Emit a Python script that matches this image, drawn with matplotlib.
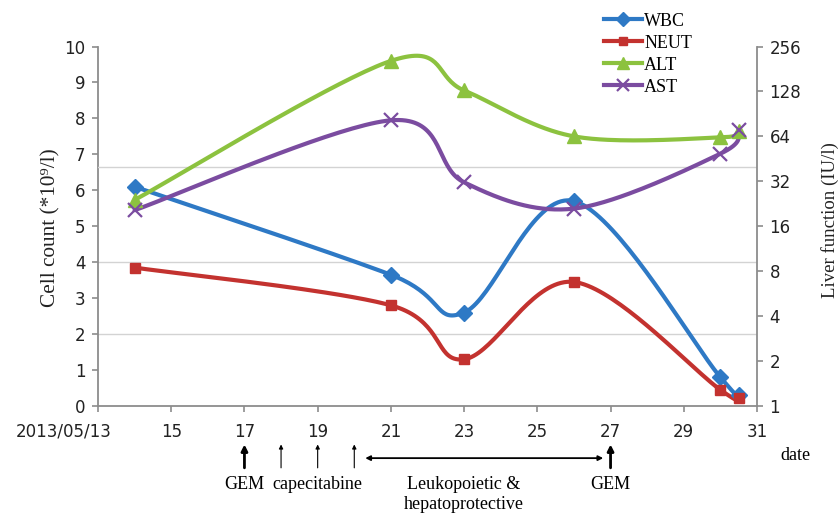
import numpy as np
import matplotlib
matplotlib.use("Agg")
import matplotlib.pyplot as plt
from matplotlib.lines import Line2D
from matplotlib.transforms import ScaledTranslation

# ---------------- data ----------------
days = [14, 21, 23, 26, 30, 30.5]
wbc = [6.1, 3.65, 2.6, 5.7, 0.8, 0.3]
neut = [3.85, 2.8, 1.3, 3.45, 0.45, 0.22]
alt = [24, 205, 130, 64, 63, 70]
ast = [20.5, 82, 31.5, 21, 49, 71]

x_ticks = [13, 15, 17, 19, 21, 23, 25, 27, 29, 31]
x_ticklabels = ["2013/05/13", "15", "17", "19", "21", "23", "25", "27", "29", "31"]
left_ticks = list(range(0, 11))
right_ticks = [1, 2, 4, 8, 16, 32, 64, 128, 256]

left_ref_lines = [2, 4]      # reference lines on cell-count axis
right_ref_lines = [40]       # reference line on liver-function axis

gem_days = [17, 27]
cape_days = [18, 19, 20]
support_span = (20.3, 26.8)

C_WBC = "#2E79C5"
C_NEUT = "#C3322F"
C_ALT = "#8CC23F"
C_AST = "#7B4CA0"
GRAY = "#8C8C8C"

SERIF = ["Liberation Serif", "DejaVu Serif"]
SANS = ["DejaVu Sans"]


def smooth(x, y, n=40):
    pts = np.column_stack([x, y]).astype(float)
    P = np.vstack([pts[0], pts, pts[-1]])
    out = []
    t = np.linspace(0, 1, n)[:, None]
    for i in range(len(pts) - 1):
        p0, p1, p2, p3 = P[i], P[i + 1], P[i + 2], P[i + 3]
        c1 = p1 + (p2 - p0) / 6.0
        c2 = p2 - (p3 - p1) / 6.0
        seg = (1 - t) ** 3 * p1 + 3 * (1 - t) ** 2 * t * c1 + 3 * (1 - t) * t ** 2 * c2 + t ** 3 * p2
        out.append(seg if i == 0 else seg[1:])
    return np.vstack(out)


fig = plt.figure(figsize=(8.4, 5.14), dpi=100)
L, R = 98 / 840, 757 / 840
B, T = 1 - 406 / 514, 1 - 46.5 / 514
ax = fig.add_axes([L, B, R - L, T - B])
ax2 = ax.twinx()

# reference lines
for v in left_ref_lines:
    ax.axhline(v, color="#D3D3D3", lw=1.0, zorder=0)
for v in right_ref_lines:
    ax2.axhline(v, color="#D3D3D3", lw=1.0, zorder=0)

LW = 3.0
# left axis series
s = smooth(days, wbc)
ax.plot(s[:, 0], s[:, 1], color=C_WBC, lw=LW, solid_capstyle="round", zorder=3)
ax.plot(days, wbc, ls="none", marker="D", ms=8.5, color=C_WBC, zorder=4)
s = smooth(days, neut)
ax.plot(s[:, 0], s[:, 1], color=C_NEUT, lw=LW, solid_capstyle="round", zorder=3)
ax.plot(days, neut, ls="none", marker="s", ms=6.5, color=C_NEUT, zorder=4)

# right axis series (log2)
ax2.set_yscale("log", base=2)
s = smooth(days, np.log2(alt))
ax2.plot(s[:, 0], 2 ** s[:, 1], color=C_ALT, lw=LW, solid_capstyle="round", zorder=3)
ax2.plot(days, alt, ls="none", marker="^", ms=10, color=C_ALT, zorder=4)
s = smooth(days, np.log2(ast))
ax2.plot(s[:, 0], 2 ** s[:, 1], color=C_AST, lw=LW, solid_capstyle="round", zorder=3)
ax2.plot(days, ast, ls="none", marker="x", ms=10, mew=1.6, color=C_AST, zorder=4)

# axes limits/ticks
ax.set_xlim(13, 31)
ax.set_ylim(0, 10)
ax2.set_ylim(1, 256)
ax.set_xticks(x_ticks)
ax.set_xticklabels(x_ticklabels)
ax.set_yticks(left_ticks)
ax2.set_yticks(right_ticks)
ax2.set_yticklabels([str(v) for v in right_ticks])
ax2.yaxis.set_minor_locator(matplotlib.ticker.NullLocator())

for a in (ax, ax2):
    a.spines["top"].set_visible(False)
    for sp in ("left", "right", "bottom"):
        a.spines[sp].set_color(GRAY)
        a.spines[sp].set_linewidth(1.3)
    a.tick_params(colors=GRAY, length=4, width=1.2, direction="out", labelcolor="#222222",
                  labelsize=12, pad=5)
ax.spines["right"].set_visible(False)
ax2.spines["left"].set_visible(False)
ax2.spines["bottom"].set_visible(False)
for lab in ax.get_xticklabels() + ax.get_yticklabels() + ax2.get_yticklabels():
    lab.set_family(SANS)
ax.tick_params(axis="x", pad=8)

# shift first date label left as in reference
first = ax.get_xticklabels()[0]
first.set_transform(first.get_transform() + ScaledTranslation(-34 / 100, 0, fig.dpi_scale_trans))

ax.set_ylabel("Cell count (*10\u2079/l)", family=SERIF, fontsize=15.3, color="#222222")
ax.yaxis.set_label_coords(51 / 840, 1 - 228 / 514, transform=fig.transFigure)
ax.yaxis.label.set_va("center")
ax.yaxis.label.set_ha("center")
ax2.set_ylabel("Liver function (IU/l)", family=SERIF, fontsize=13.5, color="#222222",
               rotation=90)
ax2.yaxis.set_label_coords(830 / 840, 1 - 220 / 514, transform=fig.transFigure)
ax2.yaxis.label.set_va("center")
ax2.yaxis.label.set_ha("center")

# treatment annotations under the x axis
trans = ax.get_xaxis_transform()
y_top, y_bot = -0.107, -0.172
for d in gem_days:
    ax.annotate("", xy=(d, y_top), xytext=(d, y_bot), xycoords=trans, textcoords=trans,
                arrowprops=dict(arrowstyle="-|>", lw=2.0, color="black", mutation_scale=9,
                                shrinkA=0, shrinkB=0), annotation_clip=False)
for d in cape_days:
    ax.annotate("", xy=(d, y_top), xytext=(d, y_bot), xycoords=trans, textcoords=trans,
                arrowprops=dict(arrowstyle="-|>", lw=0.8, color="black", mutation_scale=6,
                                shrinkA=0, shrinkB=0), annotation_clip=False)
ax.annotate("", xy=(support_span[0], -0.145), xytext=(support_span[1], -0.145),
            xycoords=trans, textcoords=trans,
            arrowprops=dict(arrowstyle="<|-|>", lw=1.3, color="black", mutation_scale=7,
                            shrinkA=0, shrinkB=0), annotation_clip=False)

FS = 13
ty = -0.217
ax.text(gem_days[0], ty, "GEM", transform=trans, ha="center", va="center", family=SERIF, fontsize=FS)
ax.text(19.0, ty, "capecitabine", transform=trans, ha="center", va="center", family=SERIF, fontsize=FS)
ax.text(23.0, ty, "Leukopoietic &", transform=trans, ha="center", va="center", family=SERIF, fontsize=FS)
ax.text(23.0, -0.275, "hepatoprotective", transform=trans, ha="center", va="center", family=SERIF, fontsize=FS)
ax.text(gem_days[1], ty, "GEM", transform=trans, ha="center", va="center", family=SERIF, fontsize=FS)
fig.text(795 / 840, 1 - 455 / 514, "date", ha="center", va="center", family=SERIF, fontsize=FS)

# legend
handles = [
    Line2D([], [], color=C_WBC, lw=LW, marker="D", ms=7),
    Line2D([], [], color=C_NEUT, lw=LW, marker="s", ms=6),
    Line2D([], [], color=C_ALT, lw=LW, marker="^", ms=8),
    Line2D([], [], color=C_AST, lw=LW, marker="x", ms=8, mew=1.6),
]
fig.legend(handles, ["WBC", "NEUT", "ALT", "AST"], loc="upper left",
           bbox_to_anchor=(600 / 840, 1 - 9 / 514), frameon=False,
           prop={"family": SERIF, "size": 13}, handlelength=2.1, handletextpad=0.15,
           labelspacing=0.28, borderpad=0.2, borderaxespad=0)

fig.savefig("out.png", dpi=100)
